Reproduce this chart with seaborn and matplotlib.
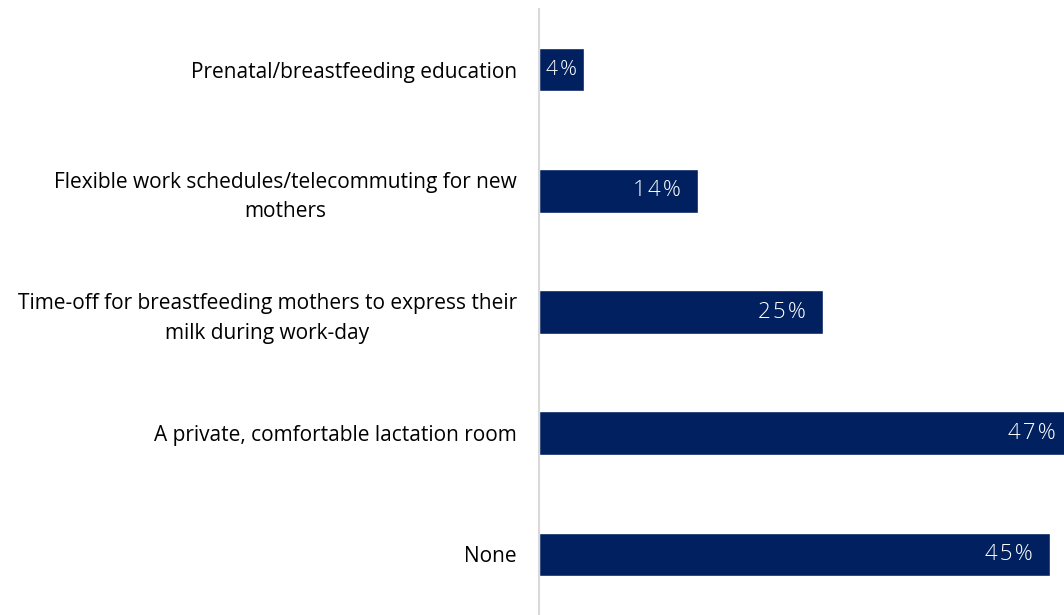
import numpy as np
import pandas as pd
import seaborn as sns
import matplotlib.pyplot as plt

categories = [
    "Prenatal/breastfeeding education",
    "Flexible work schedules/telecommuting for new\nmothers",
    "Time-off for breastfeeding mothers to express their\nmilk during work-day",
    "A private, comfortable lactation room",
    "None",
]
values = [4, 14, 25, 47, 45]

df = pd.DataFrame({"option": categories, "pct": values})

sns.set_theme(style="white")
plt.rcParams["font.family"] = ["Open Sans", "DejaVu Sans"]

fig = plt.figure(figsize=(10.64, 6.15), dpi=100)
ax = fig.add_axes([539 / 1064, 0, 1 - 539 / 1064, 606 / 615])

sns.barplot(data=df, x="pct", y="option", color="#002060", saturation=1,
            width=0.36, ax=ax, orient="h")

# the original is cropped at the right edge, the longest bar runs off it
ax.set_xlim(0, 46.25)
ax.set_ylim(4.5, -0.5)
ax.set_xlabel("")
ax.set_ylabel("")
ax.set_xticks([])
for s in ["top", "right", "bottom"]:
    ax.spines[s].set_visible(False)
ax.spines["left"].set_color("#d9d9d9")
ax.spines["left"].set_linewidth(1.5)

ax.tick_params(axis="y", length=0, pad=16)
for lab in ax.get_yticklabels():
    lab.set_fontsize(15)
    lab.set_color("#000000")
    lab.set_multialignment("center")
    lab.set_linespacing(1.5)


def spaced(v):
    # the reference uses wide letter spacing on the value labels
    return "\u200a".join(f"{v}%")


for i, v in enumerate(values):
    if v < 8:
        ax.text(v / 2, i, spaced(v), color="white", fontsize=15,
                fontweight="light", ha="center", va="center")
    else:
        ax.annotate(spaced(v), xy=(v, i), xytext=(-12, 0),
                    textcoords="offset points", color="white",
                    fontsize=16, fontweight="light", ha="right", va="center",
                    annotation_clip=False)

fig.savefig("out.png", dpi=100)
